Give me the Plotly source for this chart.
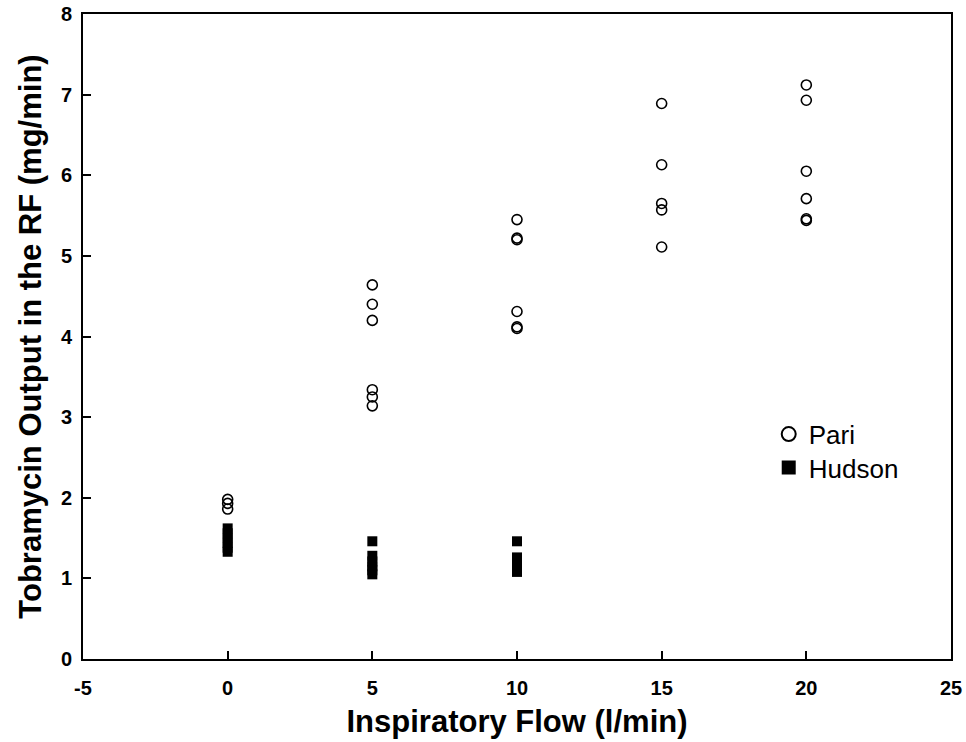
import plotly.graph_objects as go

pari_x = [0, 0, 0,
          5, 5, 5, 5, 5, 5,
          10, 10, 10, 10, 10, 10,
          15, 15, 15, 15, 15,
          20, 20, 20, 20, 20, 20]
pari_y = [1.98, 1.93, 1.86,
          4.64, 4.40, 4.20, 3.34, 3.25, 3.14,
          5.45, 5.22, 5.20, 4.31, 4.12, 4.10,
          6.89, 6.13, 5.65, 5.57, 5.11,
          7.12, 6.93, 6.05, 5.71, 5.46, 5.44]

hudson_x = [0, 0, 0, 0, 0, 0,
            5, 5, 5, 5, 5, 5,
            10, 10, 10, 10, 10]
hudson_y = [1.62, 1.56, 1.50, 1.44, 1.38, 1.33,
            1.46, 1.28, 1.21, 1.15, 1.10, 1.05,
            1.46, 1.26, 1.20, 1.14, 1.08]

x_ticks = [-5, 0, 5, 10, 15, 20, 25]
y_ticks = [0, 1, 2, 3, 4, 5, 6, 7, 8]

FONT = "Liberation Sans, Arial, sans-serif"

fig = go.Figure()
fig.add_trace(go.Scatter(x=pari_x, y=pari_y, mode="markers", name="Pari", showlegend=False,
                         marker=dict(symbol="circle-open", size=10, color="black",
                                     line=dict(width=1.6, color="black"))))
fig.add_trace(go.Scatter(x=hudson_x, y=hudson_y, mode="markers", name="Hudson", showlegend=False,
                         marker=dict(symbol="square", size=10, color="black")))
# legend entries (larger symbols, as in the reference key)
fig.add_trace(go.Scatter(x=[None], y=[None], mode="markers", name="Pari", legend="legend",
                         marker=dict(symbol="circle-open", size=14, color="black",
                                     line=dict(width=2, color="black"))))
fig.add_trace(go.Scatter(x=[None], y=[None], mode="markers", name="Hudson", legend="legend2",
                         marker=dict(symbol="square", size=14, color="black")))

leg_common = dict(xanchor="left", yanchor="top",
                  font=dict(family=FONT, size=26, color="black"),
                  bgcolor="rgba(0,0,0,0)")

fig.update_layout(
    width=966, height=742,
    margin=dict(l=83, r=15, t=14, b=83),
    paper_bgcolor="white", plot_bgcolor="white",
    font=dict(family=FONT, color="black"),
    showlegend=True,
    legend=dict(x=0.790, y=0.385, **leg_common),
    legend2=dict(x=0.790, y=0.333, **leg_common),
    xaxis=dict(range=[-5, 25], tickvals=x_ticks, ticktext=["<b>%d</b>" % v for v in x_ticks],
               ticks="inside", ticklen=8, tickwidth=1.5, tickcolor="black",
               showline=True, linecolor="black", linewidth=2, mirror=True,
               showgrid=False, zeroline=False, automargin=False,
               ticklabelstandoff=10,
               tickfont=dict(family=FONT, size=20, color="black"),
               title=dict(text="<b>Inspiratory Flow (l/min)</b>",
                          font=dict(family=FONT, size=31, color="black"), standoff=12)),
    yaxis=dict(range=[0, 8], tickvals=y_ticks, ticktext=["<b>%d</b>" % v for v in y_ticks],
               ticks="inside", ticklen=8, tickwidth=1.5, tickcolor="black",
               showline=True, linecolor="black", linewidth=2, mirror=True,
               showgrid=False, zeroline=False, automargin=False,
               ticklabelstandoff=5,
               tickfont=dict(family=FONT, size=20, color="black"),
               title=dict(text="<b>Tobramycin Output in the RF (mg/min)</b>",
                          font=dict(family=FONT, size=31, color="black"), standoff=10)),
)

fig.write_html("out.html", config={"displayModeBar": False},
               post_script="document.body.style.margin='0';document.body.style.overflow='hidden';")
